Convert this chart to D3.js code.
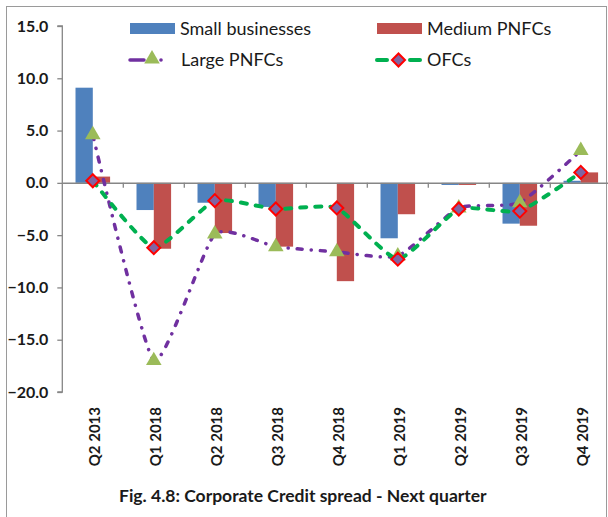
<!DOCTYPE html>
<html>
<head>
<meta charset="utf-8">
<script src="https://cdn.jsdelivr.net/npm/d3@7"></script>
<style>
  html, body { margin: 0; padding: 0; background: #fff; }
  svg { display: block; }
  text { font-family: Lato, "Open Sans", sans-serif; fill: #1a1a1a; }
</style>
</head>
<body>
<svg id="chart" width="608" height="517"></svg>
<script>
const categories = ["Q2 2013","Q1 2018","Q2 2018","Q3 2018","Q4 2018","Q1 2019","Q2 2019","Q3 2019","Q4 2019"];
const smallBusinesses = [9.1, -2.6, -1.9, -2.3, 0.0, -5.3, -0.2, -3.9, 0.2];
const mediumPNFCs     = [0.6, -6.3, -4.8, -6.1, -9.4, -3.0, -0.2, -4.1, 1.0];
const largePNFCs      = [4.6, -17.0, -4.9, -6.1, -6.6, -7.0, -2.4, -1.9, 3.1];
const ofcs            = [0.2, -6.2, -1.7, -2.5, -2.4, -7.3, -2.5, -2.7, 1.0];
const yTicks = [15, 10, 5, 0, -5, -10, -15, -20];
const barSeries = ["Small businesses", "Medium PNFCs"];
const caption = "Fig. 4.8: Corporate Credit spread - Next quarter";

const C = {
  blue: "#4F81BD", red: "#C0504D", purple: "#7030A0", tri: "#9BBB59",
  green: "#00B050", diamondFill: "#8064A2", diamondStroke: "#FF0000", axis: "#868686"
};

const svg = d3.select("#chart");

// outer border
svg.append("rect").attr("x", 6.5).attr("y", 6.5).attr("width", 600).attr("height", 530)
  .attr("fill", "none").attr("stroke", "#9a9a9a").attr("stroke-width", 1);

const pLeft = 62.3, pRight = 611.3, pTop = 26, pBottom = 392;
const x0 = d3.scaleBand().domain(categories).range([pLeft, pRight]).paddingInner(0).paddingOuter(0);
const groupW = x0.bandwidth() * 0.567;
const x1 = d3.scaleBand().domain(barSeries)
  .range([(x0.bandwidth() - groupW) / 2, (x0.bandwidth() + groupW) / 2]);
const y = d3.scaleLinear().domain([-20, 15]).range([pBottom, pTop]);

// bars
const barData = categories.map((c, i) => ({ c, vals: [smallBusinesses[i], mediumPNFCs[i]] }));
const barColors = d3.scaleOrdinal().domain(barSeries).range([C.blue, C.red]);
const g = svg.append("g").selectAll("g").data(barData).join("g")
  .attr("transform", d => `translate(${x0(d.c)},0)`);
g.selectAll("rect").data(d => d.vals.map((v, k) => ({ s: barSeries[k], v })))
  .join("rect")
  .attr("x", d => x1(d.s))
  .attr("width", x1.bandwidth())
  .attr("y", d => y(Math.max(0, d.v)))
  .attr("height", d => Math.abs(y(d.v) - y(0)))
  .attr("fill", d => barColors(d.s));

// Y axis
const yAxis = d3.axisLeft(y).tickValues(yTicks).tickSize(5).tickPadding(9)
  .tickFormat(d3.format(".1f"));
const ya = svg.append("g").attr("transform", `translate(${pLeft},0)`).call(yAxis);
ya.select(".domain").attr("stroke", C.axis).attr("stroke-width", 1.3).attr("d", `M-5,${pTop}H0V${pBottom}H-5`);
ya.selectAll(".tick line").attr("stroke", C.axis).attr("stroke-width", 1.3);
ya.selectAll(".tick text").style("font-family", "Lato, sans-serif").style("font-weight", "bold")
  .style("font-size", "16px").attr("fill", "#111");

// X axis at zero
const xAxis = d3.axisBottom(x0).tickSize(0).tickFormat("");
const xa = svg.append("g").attr("transform", `translate(0,${y(0)})`).call(xAxis);
xa.select(".domain").attr("stroke", C.axis).attr("stroke-width", 1.5);
xa.selectAll(".tick").remove();
// category boundary ticks
const bounds = categories.map(c => x0(c) + x0.bandwidth());
xa.selectAll("line.b").data(bounds).join("line").attr("class", "b")
  .attr("x1", d => d).attr("x2", d => d).attr("y1", 0).attr("y2", 5)
  .attr("stroke", C.axis).attr("stroke-width", 1.3);

// X labels (rotated)
svg.append("g").selectAll("text").data(categories).join("text")
  .attr("transform", d => `translate(${x0(d) + x0.bandwidth() / 2 + 2},407) rotate(-90)`)
  .attr("text-anchor", "end").attr("dy", "0.36em")
  .style("font-weight", "bold").style("font-size", "15px").attr("fill", "#111")
  .text(d => d);

// lines
const curve = d3.curveCardinal.tension(0.5);
const line = d3.line().x((d, i) => x0(categories[i]) + x0.bandwidth() / 2).y(d => y(d)).curve(curve);

svg.append("path").datum(largePNFCs).attr("d", line)
  .attr("fill", "none").attr("stroke", C.purple).attr("stroke-width", 3.5)
  .attr("stroke-linecap", "round").attr("stroke-dasharray", "5,9,0.1,9");

const triSym = d3.symbol().type(d3.symbolTriangle).size(105);
svg.append("g").selectAll("path").data(largePNFCs).join("path")
  .attr("transform", (d, i) => `translate(${x0(categories[i]) + x0.bandwidth() / 2},${y(d)})`)
  .attr("d", triSym).attr("fill", C.tri);

svg.append("path").datum(ofcs).attr("d", line)
  .attr("fill", "none").attr("stroke", C.green).attr("stroke-width", 4)
  .attr("stroke-linecap", "round").attr("stroke-dasharray", "6,9");

const diamond = "M0,-6.5L6.5,0L0,6.5L-6.5,0Z";
svg.append("g").selectAll("path").data(ofcs).join("path")
  .attr("transform", (d, i) => `translate(${x0(categories[i]) + x0.bandwidth() / 2},${y(d)})`)
  .attr("d", diamond).attr("fill", C.diamondFill).attr("stroke", C.diamondStroke).attr("stroke-width", 2);

// Legend
const lg = svg.append("g");
lg.append("rect").attr("x", 130).attr("y", 23).attr("width", 45).attr("height", 11).attr("fill", C.blue);
lg.append("text").attr("x", 180).attr("y", 29).attr("dy", "0.35em").style("font-size", "18px").text(barSeries[0]);
lg.append("rect").attr("x", 377).attr("y", 23).attr("width", 45).attr("height", 11).attr("fill", C.red);
lg.append("text").attr("x", 427).attr("y", 29).attr("dy", "0.35em").style("font-size", "18px").text(barSeries[1]);

lg.append("line").attr("x1", 130).attr("x2", 144).attr("y1", 60).attr("y2", 60)
  .attr("stroke", C.purple).attr("stroke-width", 3.5).attr("stroke-linecap", "round");
lg.append("circle").attr("cx", 161).attr("cy", 60).attr("r", 1.8).attr("fill", C.purple);
lg.append("path").attr("transform", "translate(152,59)").attr("d", triSym).attr("fill", C.tri);
lg.append("text").attr("x", 181).attr("y", 60).attr("dy", "0.35em").style("font-size", "18px").text("Large PNFCs");

lg.append("line").attr("x1", 377).attr("x2", 387).attr("y1", 60).attr("y2", 60)
  .attr("stroke", C.green).attr("stroke-width", 4).attr("stroke-linecap", "round");
lg.append("line").attr("x1", 410).attr("x2", 420).attr("y1", 60).attr("y2", 60)
  .attr("stroke", C.green).attr("stroke-width", 4).attr("stroke-linecap", "round");
lg.append("path").attr("transform", "translate(398.5,60)").attr("d", diamond)
  .attr("fill", C.diamondFill).attr("stroke", C.diamondStroke).attr("stroke-width", 2);
lg.append("text").attr("x", 427).attr("y", 60).attr("dy", "0.35em").style("font-size", "18px").text("OFCs");

// caption
svg.append("text").attr("x", 119).attr("y", 496).attr("dy", "0.35em")
  .style("font-weight", "bold").style("font-size", "17.5px").attr("fill", "#1a1a1a").text(caption);
</script>
</body>
</html>
